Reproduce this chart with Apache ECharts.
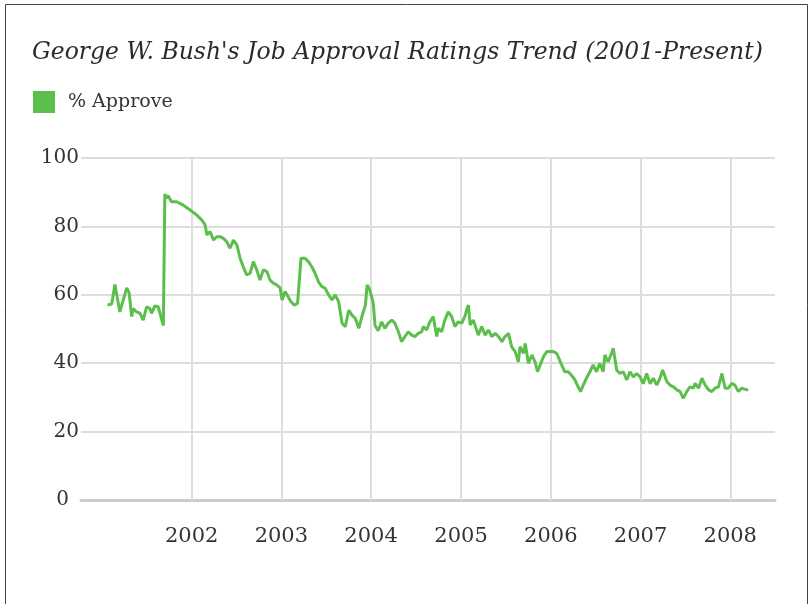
<!DOCTYPE html>
<html>
<head>
<meta charset="utf-8">
<title>George W. Bush's Job Approval Ratings Trend</title>
<script src="https://cdn.jsdelivr.net/npm/echarts@6/dist/echarts.min.js"></script>
<style>
    html, body {margin: 0; padding: 0; background: #fff;}
    #main {width: 811px; height: 604px;}
</style>
</head>
<body>
<div id="main"></div>
<script>
    // weekly-ish readings
    var dates = [
        '2001-01-24', '2001-02-10', '2001-02-23', '2001-03-02', '2001-03-15', '2001-04-12', '2001-04-22', '2001-05-02',
        '2001-05-08', '2001-05-22', '2001-06-05', '2001-06-18', '2001-07-02', '2001-07-15', '2001-07-22', '2001-08-04',
        '2001-08-18', '2001-09-08', '2001-09-14', '2001-09-20', '2001-09-27', '2001-10-11', '2001-11-01', '2001-11-28',
        '2001-12-26', '2002-01-22', '2002-02-11', '2002-02-25', '2002-03-04', '2002-03-17', '2002-03-31', '2002-04-13',
        '2002-04-27', '2002-05-10', '2002-05-24', '2002-06-06', '2002-06-20', '2002-07-04', '2002-07-17', '2002-07-30',
        '2002-08-13', '2002-08-27', '2002-09-09', '2002-09-23', '2002-10-06', '2002-10-20', '2002-11-03', '2002-11-16',
        '2002-11-29', '2002-12-13', '2002-12-27', '2003-01-04', '2003-01-16', '2003-01-28', '2003-02-09', '2003-02-22',
        '2003-03-08', '2003-03-16', '2003-03-22', '2003-03-29', '2003-04-07', '2003-04-21', '2003-05-05', '2003-05-18',
        '2003-06-01', '2003-06-15', '2003-06-28', '2003-07-12', '2003-07-26', '2003-08-08', '2003-08-22', '2003-09-05',
        '2003-09-18', '2003-10-02', '2003-10-16', '2003-10-29', '2003-11-12', '2003-11-26', '2003-12-09', '2003-12-16',
        '2003-12-27', '2004-01-03', '2004-01-10', '2004-01-17', '2004-01-30', '2004-02-13', '2004-02-26', '2004-03-11',
        '2004-03-25', '2004-04-07', '2004-04-21', '2004-05-04', '2004-05-18', '2004-05-31', '2004-06-14', '2004-06-27',
        '2004-07-11', '2004-07-25', '2004-07-31', '2004-08-14', '2004-08-27', '2004-09-10', '2004-09-24', '2004-09-30',
        '2004-10-14', '2004-10-27', '2004-11-10', '2004-11-24', '2004-12-07', '2004-12-20', '2005-01-04', '2005-01-11',
        '2005-01-18', '2005-01-25', '2005-01-31', '2005-02-07', '2005-02-20', '2005-03-12', '2005-03-26', '2005-04-09',
        '2005-04-22', '2005-05-06', '2005-05-20', '2005-06-02', '2005-06-16', '2005-06-29', '2005-07-13', '2005-07-26',
        '2005-08-09', '2005-08-22', '2005-08-29', '2005-09-12', '2005-09-19', '2005-10-02', '2005-10-16', '2005-10-29',
        '2005-11-08', '2005-11-19', '2005-12-02', '2005-12-16', '2006-01-11', '2006-01-25', '2006-02-14', '2006-02-27',
        '2006-03-13', '2006-03-26', '2006-04-09', '2006-04-22', '2006-05-02', '2006-05-13', '2006-05-26', '2006-06-09',
        '2006-06-22', '2006-07-06', '2006-07-19', '2006-08-02', '2006-08-09', '2006-08-22', '2006-09-05', '2006-09-12',
        '2006-09-26', '2006-10-09', '2006-10-23', '2006-11-06', '2006-11-19', '2006-12-03', '2006-12-16', '2006-12-30',
        '2007-01-12', '2007-01-26', '2007-02-09', '2007-02-22', '2007-03-08', '2007-03-21', '2007-04-01', '2007-04-18',
        '2007-05-01', '2007-05-15', '2007-05-29', '2007-06-11', '2007-06-24', '2007-07-08', '2007-07-21', '2007-08-04',
        '2007-08-11', '2007-08-25', '2007-09-08', '2007-09-21', '2007-10-05', '2007-10-18', '2007-10-31', '2007-11-14',
        '2007-11-28', '2007-12-11', '2007-12-24', '2008-01-07', '2008-01-20', '2008-02-03', '2008-02-16', '2008-03-08',
        '2008-03-14'
    ];
    var approve = [
        57, 57.3, 63, 62.6, 55, 62, 60.5, 53.6,
        56, 55, 54.6, 52.6, 56.5, 56, 54.6, 56.7,
        56.5, 51, 89.5, 88.3, 89, 87.2, 87.2, 86.2,
        84.8, 83.3, 81.9, 80.4, 77.5, 78.5, 76, 77,
        77, 76.5, 75.5, 73.6, 76, 74.6, 70.7, 68.2,
        65.8, 66.3, 69.7, 67.3, 64.3, 67.3, 66.8, 64.3,
        63.4, 62.9, 62, 58.5, 61, 59.5, 58, 57,
        57.5, 58, 70.7, 71.2, 70.7, 69.7, 68.2, 66.3,
        63.8, 62.4, 61.9, 60, 58.5, 60, 58, 51.7,
        50.7, 55.5, 54, 53.1, 50.2, 54, 57, 62.9,
        61.4, 59.5, 57.5, 51, 49.5, 52.1, 50.2, 51.7,
        52.6, 51.7, 49.2, 46.3, 47.8, 49.2, 48.2, 47.8,
        48.7, 49.2, 50.7, 49.7, 52.1, 53.6, 47.8, 50.2,
        49.2, 52.6, 55, 53.6, 50.7, 52.1, 51.7, 52.1,
        54, 56, 57, 51.2, 52.6, 48.2, 50.7, 48.2,
        49.7, 47.8, 48.7, 47.8, 46.3, 47.8, 48.7, 44.8,
        43.4, 40.4, 44.8, 42.9, 45.8, 40, 42.4, 40.4,
        37.5, 39.5, 41.9, 43.4, 43.4, 42.9, 39.5, 37.5,
        37.5, 36.5, 35.1, 33.1, 31.7, 33.6, 35.6, 37.5,
        39.5, 37.5, 40, 37.5, 42.4, 40.4, 42.9, 44.4,
        38, 37, 37.5, 35.1, 37.5, 36, 37, 36,
        34, 37, 34, 35.6, 33.6, 35.6, 38, 34.6,
        33.6, 33.1, 32.2, 31.7, 29.7, 31.7, 33.1, 32.7,
        34.1, 32.7, 35.6, 33.6, 32.2, 31.7, 32.7, 33.1,
        37, 32.7, 32.7, 34.1, 33.6, 31.7, 32.7, 32.2,
        32.3
    ];
    var years = [2002, 2003, 2004, 2005, 2006, 2007, 2008];
    var xStart = '2000-10-08', xEnd = '2008-07-01';

    function ts(d) { return new Date(d).getTime(); }   // yyyy-mm-dd parses as UTC
    var yearTicks = years.map(function (y) { return Date.UTC(y, 0, 1); });
    var green = '#5cbf4c';
    var font = 'DejaVu Serif';

    var chart = echarts.init(document.getElementById('main'));
    chart.setOption({
        animation: false,
        graphic: [{
            type: 'rect', silent: true,
            shape: {x: 5.5, y: 4.5, width: 802, height: 640},
            style: {fill: 'none', stroke: '#444', lineWidth: 1}
        }],
        title: {
            text: "George W. Bush's Job Approval Ratings Trend (2001-Present)",
            left: 27, top: 36,
            textStyle: {fontFamily: font, fontStyle: 'italic', fontWeight: 'normal', fontSize: 23.5, color: '#2b2b2b'}
        },
        legend: {
            left: 28, top: 86, icon: 'rect', itemWidth: 22, itemHeight: 22,
            textStyle: {fontFamily: font, fontSize: 19, color: '#333', padding: [0, 0, 0, 8]},
            data: ['% Approve']
        },
        grid: {left: 81, right: 36, top: 158, bottom: 104},
        xAxis: [{
            type: 'value',
            min: ts(xStart), max: ts(xEnd),
            axisLine: {show: true, onZero: false, lineStyle: {color: '#cccccc', width: 3}},
            axisTick: {show: false, customValues: yearTicks},
            splitLine: {show: true, lineStyle: {color: '#dddddd', width: 2}},
            axisLabel: {
                customValues: yearTicks, margin: 26,
                fontFamily: font, fontSize: 21, color: '#333',
                formatter: function (v) { return String(new Date(v).getUTCFullYear()); }
            }
        }, {
            // only there to poke the year lines a few pixels above the top gridline
            type: 'value', position: 'top',
            min: ts(xStart), max: ts(xEnd),
            axisLine: {show: false},
            axisTick: {show: true, length: 6, customValues: yearTicks, lineStyle: {color: '#dddddd', width: 2}},
            axisLabel: {show: false},
            splitLine: {show: false}
        }],
        yAxis: {
            type: 'value', min: 0, max: 100, interval: 20,
            axisLine: {show: false},
            axisTick: {show: false},
            splitLine: {lineStyle: {color: '#dddddd', width: 2}},
            axisLabel: {
                margin: 2, fontFamily: font, fontSize: 20, color: '#333',
                formatter: function (v) { return v === 0 ? '{z|0}' : String(v); },
                rich: {z: {fontFamily: font, fontSize: 20, color: '#333', padding: [0, 10, 0, 0]}}
            }
        },
        series: [{
            name: '% Approve',
            type: 'line',
            showSymbol: false,
            smooth: false,
            color: green,
            lineStyle: {color: green, width: 3},
            data: dates.map(function (d, i) {
                return [ts(d), approve[i]];
            })
        }]
    });
</script>
</body>
</html>
